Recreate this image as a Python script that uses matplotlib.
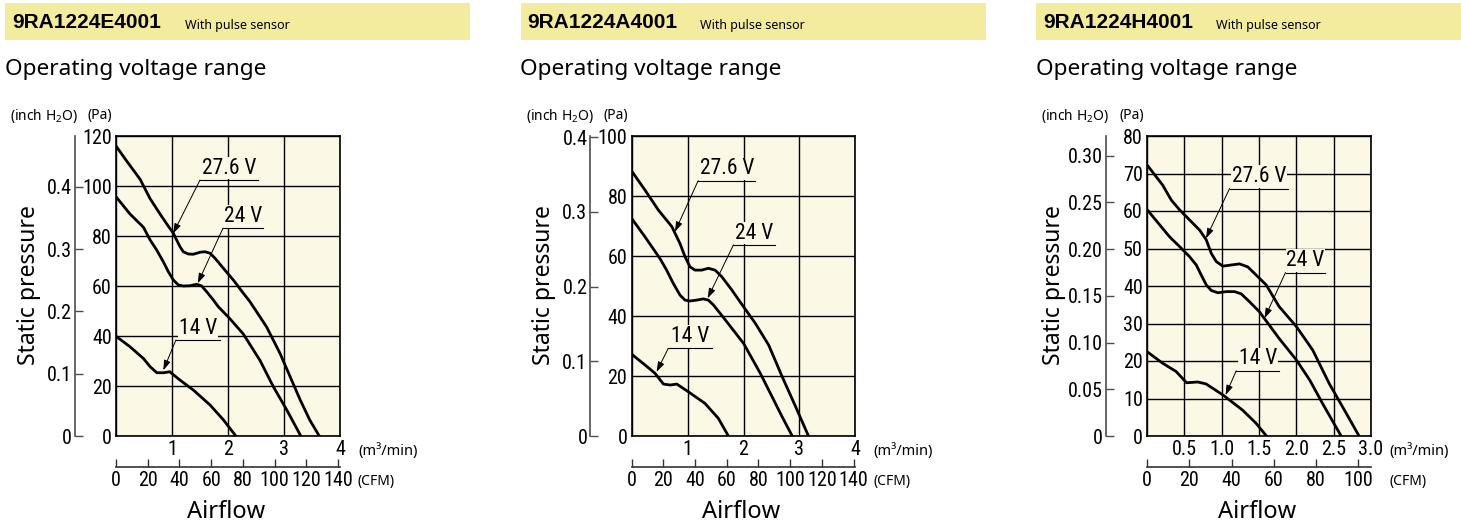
import matplotlib.pyplot as plt
from matplotlib.patches import Rectangle

plt.rcParams['mathtext.default'] = 'regular'

W, H = 1461, 526
BAR = '#F3EB9E'
BG = '#FCF8E6'
PA_PER_INCH = 249.09
CFM_PER_M3MIN = 35.3147

models = ['9RA1224E4001', '9RA1224A4001', '9RA1224H4001']
voltages = ['27.6 V', '24 V', '14 V']

# 9RA1224E4001  (airflow m3/min, static pressure Pa)
e_276_x = [0, 0.19, 0.43, 0.607, 0.786, 0.935, 1.024, 1.083, 1.143, 1.202, 1.292, 1.381, 1.5, 1.589,
           1.679, 1.768, 1.917, 2.095, 2.274, 2.393, 2.69, 2.93, 3.11, 3.29, 3.46, 3.63]
e_276_y = [116, 110, 102.7, 95, 88.8, 83.9, 81.1, 78.4, 75.7, 73.7, 72.8, 72.7, 73.5, 73.7,
           73.1, 71.1, 67.1, 62.4, 57.1, 53.7, 43.6, 33, 23.7, 14.4, 6.4, 0]
e_24_x = [0, 0.25, 0.49, 0.607, 0.726, 0.845, 0.935, 1.024, 1.113, 1.202, 1.321, 1.44, 1.53, 1.619,
          1.738, 1.827, 2.01, 2.27, 2.57, 2.81, 3.05, 3.30]
e_24_y = [95.7, 88.8, 83.5, 78.5, 74.4, 69.7, 65.7, 62.4, 60.4, 60, 60.1, 60.7, 60, 57.7,
          54.4, 51.7, 47.5, 40.9, 30.3, 19.7, 10.4, 0]
e_14_x = [0, 0.25, 0.49, 0.61, 0.73, 0.85, 0.96, 1.14, 1.38, 1.68, 1.92, 2.14]
e_14_y = [39.9, 35.7, 31, 27.7, 25.3, 25.3, 25.7, 22.4, 18.4, 12.4, 6.4, 0]

# 9RA1224A4001
a_276_x = [0, 0.24, 0.48, 0.72, 0.865, 0.955, 1.044, 1.134, 1.254, 1.372, 1.492, 1.612, 1.79, 2.0,
           2.21, 2.45, 2.69, 2.93, 3.16]
a_276_y = [88.4, 82, 75.3, 69.8, 64.2, 59.8, 56.4, 55.3, 55.3, 55.9, 55.3, 53.1, 48.7, 43.1,
           37.6, 30.3, 19.8, 9.8, 0]
a_24_x = [0, 0.24, 0.507, 0.627, 0.745, 0.865, 0.955, 1.044, 1.164, 1.283, 1.372, 1.462, 1.582, 1.70,
          2.0, 2.30, 2.51, 2.69, 2.87]
a_24_y = [72.6, 66.4, 59.2, 55.3, 50.9, 47, 45.3, 45, 45.3, 45.7, 45.3, 43.7, 40.9, 38.1,
          30.9, 20.9, 13.1, 6.4, 0]
a_14_x = [0, 0.24, 0.42, 0.57, 0.69, 0.81, 1.01, 1.31, 1.55, 1.73]
a_14_y = [27.3, 23.7, 20.9, 17.3, 17, 17.3, 14.8, 10.9, 5.9, 0]

# 9RA1224H4001
h_276_x = [0, 0.21, 0.326, 0.437, 0.571, 0.705, 0.794, 0.861, 0.928, 1.016, 1.128, 1.239, 1.35, 1.463,
           1.596, 1.77, 2.0, 2.22, 2.44, 2.67, 2.84]
h_276_y = [72.3, 66.9, 62.9, 60.3, 57.6, 54.9, 52.3, 48.7, 46.5, 45.3, 45.6, 45.9, 45.1, 42.9,
           40.3, 34.5, 29.2, 22.9, 14, 6, 0]
h_24_x = [0, 0.17, 0.303, 0.437, 0.571, 0.66, 0.727, 0.794, 0.861, 0.95, 1.061, 1.173, 1.262, 1.373,
          1.507, 1.77, 2.0, 2.18, 2.35, 2.60]
h_24_y = [60.4, 56.3, 53.1, 50.5, 47.8, 45.6, 42.9, 40.3, 38.8, 38.2, 38.5, 38.5, 37.9, 35.8,
          33.1, 26, 20.3, 14.9, 8.7, 0]
h_14_x = [0, 0.21, 0.39, 0.53, 0.68, 0.79, 1.02, 1.28, 1.46, 1.60]
h_14_y = [22.5, 19.4, 17.2, 14.2, 14.4, 13.9, 10.9, 6.9, 3.4, 0]

curves = [
    [(e_276_x, e_276_y), (e_24_x, e_24_y), (e_14_x, e_14_y)],
    [(a_276_x, a_276_y), (a_24_x, a_24_y), (a_14_x, a_14_y)],
    [(h_276_x, h_276_y), (h_24_x, h_24_y), (h_14_x, h_14_y)],
]

x_ticks = [[0, 1, 2, 3, 4], [0, 1, 2, 3, 4], [0, 0.5, 1.0, 1.5, 2.0, 2.5, 3.0]]
x_labels = [['', '1', '2', '3', '4'], ['', '1', '2', '3', '4'],
            ['', '0.5', '1.0', '1.5', '2.0', '2.5', '3.0']]
pa_ticks = [[0, 20, 40, 60, 80, 100, 120], [0, 20, 40, 60, 80, 100],
            [0, 10, 20, 30, 40, 50, 60, 70, 80]]
inch_ticks = [[0, 0.1, 0.2, 0.3, 0.4], [0, 0.1, 0.2, 0.3, 0.4],
              [0, 0.05, 0.10, 0.15, 0.20, 0.25, 0.30]]
inch_labels = [['0', '0.1', '0.2', '0.3', '0.4'], ['0', '0.1', '0.2', '0.3', '0.4'],
               ['0', '0.05', '0.10', '0.15', '0.20', '0.25', '0.30']]
cfm_ticks = [[0, 20, 40, 60, 80, 100, 120, 140], [0, 20, 40, 60, 80, 100, 120, 140],
             [0, 20, 40, 60, 80, 100]]

# label placement: (underline start x, underline end x, underline y, arrow tip x, arrow tip y)
label_spots = [
    [(1.50, 2.54, 102.4, 1.02, 81), (1.91, 2.625, 83.1, 1.46, 61.1), (1.07, 1.86, 38.4, 0.845, 26.3)],
    [(1.19, 2.21, 85.1, 0.776, 68.1), (1.82, 2.57, 63.7, 1.36, 45.9), (0.656, 1.43, 29.2, 0.448, 21.4)],
    [(1.106, 1.886, 66.0, 0.79, 52.7), (1.855, 2.39, 43.6, 1.574, 31.4), (1.195, 1.774, 17.4, 1.052, 10.9)],
]
ylabel_x = [29, 29, 23]

num_font = ['Roboto Condensed', 'Noto Sans Condensed', 'Liberation Sans']
txt_font = ['Noto Sans', 'DejaVu Sans']
NUM = 14.5

fig = plt.figure(figsize=(W / 100, H / 100), dpi=100)


def fx(x):
    return x / W


def fy(y):
    return 1 - y / H


offsets = [0, 515.5, 1031]
for i, off in enumerate(offsets):
    # header bar
    right = 470 if i < 2 else W - off
    fig.add_artist(Rectangle((fx(off + 5), fy(40)), fx(right - 5), 37 / H,
                             transform=fig.transFigure, facecolor=BAR, edgecolor='none'))
    fig.text(fx(off + 12), fy(22), models[i], fontsize=15, fontweight='bold',
             family='Liberation Sans', va='center')
    fig.text(fx(off + 185), fy(25), 'With pulse sensor', fontsize=9, family=txt_font, va='center')
    fig.text(fx(off + 5), fy(69), 'Operating voltage range', fontsize=16.3, family=txt_font, va='center')
    fig.text(fx(off + 10), fy(116), '(inch H$_2$O)', fontsize=10, family=txt_font, va='center')
    fig.text(fx(off + 88), fy(116), '(Pa)', fontsize=10, family=txt_font, va='center')
    fig.text(fx(off + ylabel_x[i]), fy(285), 'Static pressure', fontsize=16.5, family=txt_font,
             rotation=90, ha='center', va='center')
    fig.text(fx(off + 226), fy(512), 'Airflow', fontsize=17, family=txt_font, ha='center', va='center')
    fig.text(fx(off + 358), fy(451), '(m³/min)', fontsize=10.5, family=txt_font, va='center')
    fig.text(fx(off + 358), fy(482), '(CFM)', fontsize=10, family=txt_font, va='center')

    ax = fig.add_axes([fx(off + 116), fy(436), 224 / W, 300 / H])
    ax.set_facecolor(BG)
    xmax = x_ticks[i][-1]
    ymax = pa_ticks[i][-1]
    ax.set_xlim(0, xmax)
    ax.set_ylim(0, ymax)
    ax.set_xticks(x_ticks[i])
    ax.set_xticklabels(x_labels[i], fontsize=NUM, family=num_font)
    ax.set_yticks(pa_ticks[i])
    ax.set_yticklabels([str(v) for v in pa_ticks[i]], fontsize=NUM, family=num_font)
    ax.tick_params(length=0, pad=3)
    ax.grid(True, color='black', lw=1.0)
    ax.set_axisbelow(True)
    for s in ax.spines.values():
        s.set_linewidth(1.2)

    for (xs, ys) in curves[i]:
        ax.plot(xs, ys, color='black', lw=2.0, solid_joinstyle='round', zorder=2)

    for lab, (x0, x1, yl, tx, ty) in zip(voltages, label_spots[i]):
        ax.annotate(lab, xy=((x0 + x1) / 2, yl), xytext=(0, 1), textcoords='offset points',
                    ha='center', va='bottom', fontsize=15.5, family=num_font, zorder=3,
                    bbox=dict(facecolor=BG, edgecolor='none', pad=0.5))
        ax.plot([x0, x1], [yl, yl], color='black', lw=0.8, zorder=4)
        ax.annotate('', xy=(tx, ty), xytext=(x0, yl), zorder=4,
                    arrowprops=dict(arrowstyle='-|>,head_length=0.6,head_width=0.2', color='black',
                                    lw=0.7, shrinkA=0, shrinkB=0, mutation_scale=10))

    # inch H2O scale
    sy = ax.secondary_yaxis(-41.3 / 224, functions=(lambda p: p / PA_PER_INCH,
                                                    lambda v: v * PA_PER_INCH))
    sy.set_yticks(inch_ticks[i])
    sy.set_yticklabels(inch_labels[i], fontsize=NUM, family=num_font)
    sy.tick_params(direction='in', length=6, width=1, pad=2, color='0.3')
    sy.spines['left'].set_color('0.3')
    sy.spines['left'].set_linewidth(1.2)

    # CFM scale
    sx = ax.secondary_xaxis(-30.7 / 300, functions=(lambda m: m * CFM_PER_M3MIN,
                                                    lambda c: c / CFM_PER_M3MIN))
    sx.set_xticks(cfm_ticks[i])
    sx.set_xticklabels([str(v) for v in cfm_ticks[i]], fontsize=NUM, family=num_font)
    sx.tick_params(direction='in', length=6, width=1, pad=3, color='0.2')
    sx.spines['bottom'].set_color('0.2')
    sx.spines['bottom'].set_linewidth(1.2)

fig.savefig('out.png', dpi=100)
